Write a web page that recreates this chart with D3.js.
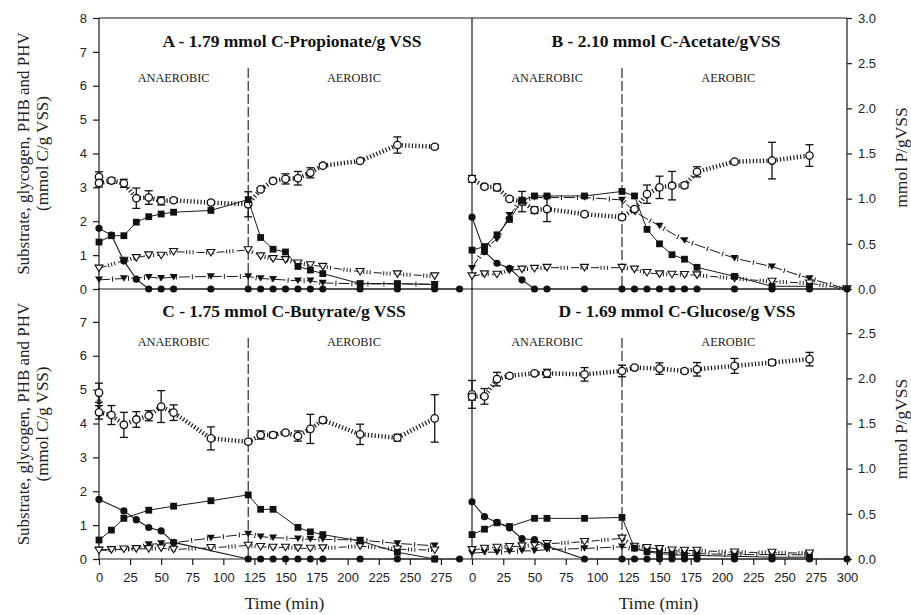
<!DOCTYPE html>
<html><head><meta charset="utf-8">
<script src="https://cdn.jsdelivr.net/npm/d3@7"></script>
<style>body{margin:0;background:#fff}</style>
</head><body>
<svg id="c" width="911" height="615"></svg>
<script>
// ---------- DATA ----------
const panelTitles = ["A - 1.79 mmol C-Propionate/g VSS","B - 2.10 mmol C-Acetate/gVSS","C - 1.75 mmol C-Butyrate/g VSS","D - 1.69 mmol C-Glucose/g VSS"];
const phaseLabels = ["ANAEROBIC","AEROBIC"];
const leftAxisLabel = ["Substrate, glycogen, PHB and PHV","(mmol C/g VSS)"];
const rightAxisLabel = "mmol P/gVSS";
const xAxisLabel = "Time (min)";
const xTicksC = [0,25,50,75,100,125,150,175,200,225,250,275];
const xTicksD = [0,25,50,75,100,125,150,175,200,225,250,275,300];
const yTicksTop = [0,1,2,3,4,5,6,7,8];
const yTicksBottom = [0,1,2,3,4,5,6,7];
const yRightTicksTop = [0,0.5,1,1.5,2,2.5,3];
const yRightTicksBottom = [0,0.5,1,1.5,2,2.5];

// [time, value] ; substrate, PHB, PHV, glycogen in mmol C/g VSS (left); P in mmol P/gVSS (right)
const A_substrate = [[0,1.79],[10,1.59],[20,0.83],[30,0.29],[40,0],[50,0],[60,0],[90,0],[120,0],[130,0],[140,0],[150,0],[160,0],[170,0],[180,0],[210,0],[240,0],[270,0],[290,0]];
const A_P = [[0,0.52],[10,0.59],[20,0.59],[30,0.74],[40,0.80],[50,0.83],[60,0.85],[90,0.87],[120,0.99],[130,0.57],[140,0.44],[150,0.41],[160,0.25],[170,0.21],[180,0.17],[210,0.06],[240,0.06],[270,0.05]];
const A_PHB = [[0,0.27],[20,0.31],[40,0.35],[50,0.32],[60,0.35],[90,0.37],[120,0.37],[130,0.31],[140,0.29],[160,0.24],[170,0.24],[180,0.18],[210,0.15],[240,0.15],[270,0.14]];
const A_PHV = [[0,0.61],[20,0.84],[30,0.92],[40,1.0],[50,0.99],[60,1.1],[90,1.07],[120,1.15],[130,0.97],[140,0.89],[150,0.86],[160,0.76],[170,0.71],[180,0.66],[210,0.51],[240,0.44],[270,0.38]];
const A_glycogen = [[0,3.31,0.15],[0,3.13,0.12],[10,3.2,0.08],[20,3.12,0.12],[30,2.68,0.3],[40,2.7,0.2],[50,2.6,0.12],[60,2.62,0.06],[90,2.55,0.05],[120,2.5,0.37],[130,2.94,0.05],[140,3.19,0.05],[150,3.25,0.15],[160,3.27,0.2],[170,3.43,0.15],[180,3.64,0.05],[210,3.78,0.05],[240,4.25,0.24],[270,4.2,0.06]];

const B_substrate = [[0,2.12],[10,1.1],[20,0.76],[30,0.61],[40,0.27],[50,0],[60,0],[90,0],[120,0],[130,0],[140,0],[150,0],[160,0],[170,0],[180,0],[210,0],[240,0],[270,0],[300,0]];
const B_P = [[0,0.43],[10,0.47],[20,0.60],[30,0.77],[40,0.98],[50,1.03],[60,1.03],[90,1.03],[120,1.08],[130,1.03],[140,0.66],[150,0.50],[160,0.38],[170,0.33],[180,0.24],[210,0.14],[240,0.03],[270,0.03]];
const B_PHB = [[0,0.61],[10,1.2],[20,1.47],[30,2.18],[40,2.63],[50,2.7],[60,2.7],[90,2.7],[120,2.63],[130,2.28],[150,1.86],[170,1.43],[210,0.91],[240,0.66],[270,0.31],[300,0]];
const B_PHV = [[0,0.38],[10,0.44],[20,0.43],[30,0.56],[40,0.58],[50,0.6],[60,0.63],[90,0.63],[120,0.63],[130,0.58],[140,0.48],[150,0.44],[160,0.43],[170,0.42],[180,0.41],[210,0.31],[240,0.22],[270,0.17],[300,0]];
const B_glycogen = [[0,3.25,0.1],[10,3.02,0.05],[20,3.0,0.1],[30,2.66,0.05],[40,2.58,0.3],[50,2.33,0.1],[60,2.36,0.37],[90,2.21,0.05],[120,2.12,0.07],[130,2.36,0.05],[140,2.8,0.27],[150,3.0,0.33],[160,3.05,0.42],[170,3.06,0.07],[180,3.46,0.15],[210,3.76,0.03],[240,3.79,0.54],[270,3.94,0.32]];

const C_substrate = [[0,1.76],[20,1.42],[30,1.16],[40,0.93],[50,0.83],[60,0.49],[120,0],[130,0],[140,0],[150,0],[160,0],[170,0],[180,0],[210,0],[240,0],[270,0],[290,0]];
const C_P = [[0,0.21],[10,0.32],[20,0.45],[40,0.54],[60,0.585],[90,0.645],[120,0.71],[130,0.55],[140,0.55],[160,0.35],[170,0.30],[180,0.27],[210,0.20],[240,0.075],[270,0]];
const C_PHB = [[0,0.27],[10,0.28],[20,0.29],[30,0.31],[40,0.43],[50,0.46],[60,0.48],[90,0.62],[120,0.74],[130,0.66],[140,0.63],[160,0.6],[170,0.58],[180,0.58],[210,0.56],[240,0.46],[270,0.39]];
const C_PHV = [[0,0.25],[10,0.27],[20,0.29],[30,0.3],[40,0.3],[50,0.32],[60,0.28],[90,0.33],[120,0.4],[130,0.36],[140,0.34],[150,0.34],[160,0.32],[170,0.31],[180,0.32],[210,0.38],[240,0.29],[270,0.26]];
const C_glycogen = [[0,4.91,0.28],[0,4.33,0.2],[10,4.25,0.28],[20,3.96,0.37],[30,4.12,0.23],[40,4.23,0.15],[50,4.5,0.47],[60,4.32,0.23],[90,3.56,0.34],[120,3.46,0.05],[130,3.66,0.12],[140,3.66,0.08],[150,3.73,0.04],[160,3.63,0.15],[170,3.84,0.43],[180,4.1,0.08],[210,3.68,0.3],[240,3.58,0.1],[270,4.15,0.7]];

const D_substrate = [[0,1.69],[10,1.25],[20,1.08],[30,0.92],[40,0.6],[50,0.57],[60,0.38],[90,0],[120,0],[130,0],[140,0],[150,0],[160,0],[170,0],[180,0],[210,0],[240,0],[270,0],[300,0]];
const D_P = [[0,0.27],[10,0.33],[20,0.40],[30,0.36],[50,0.45],[60,0.45],[90,0.45],[120,0.46],[130,0.12],[140,0.08],[150,0.06],[160,0.05],[170,0.04],[180,0.04],[210,0.03],[240,0.02],[270,0.02]];
const D_PHB = [[0,0.17],[10,0.2],[20,0.2],[30,0.22],[40,0.24],[50,0.24],[60,0.28],[90,0.31],[120,0.36],[130,0.29],[140,0.24],[150,0.2],[160,0.18],[170,0.17],[180,0.16],[210,0.13],[240,0.13],[270,0.12]];
const D_PHV = [[0,0.27],[10,0.31],[20,0.34],[30,0.36],[40,0.38],[50,0.41],[60,0.45],[90,0.51],[120,0.61],[130,0.37],[140,0.33],[150,0.3],[160,0.26],[170,0.25],[180,0.25],[210,0.2],[240,0.19],[270,0.17]];
const D_glycogen = [[0,4.86,0.41],[0,4.79,0.1],[10,4.8,0.23],[20,5.31,0.2],[30,5.41,0.05],[50,5.48,0.05],[60,5.48,0.12],[90,5.45,0.2],[120,5.55,0.17],[130,5.65,0.05],[150,5.62,0.17],[170,5.55,0.05],[180,5.6,0.2],[210,5.7,0.22],[240,5.8,0.08],[270,5.9,0.2]];

// ---------- LAYOUT ----------
const SERIF = "'Liberation Serif','Times New Roman',serif";
const SANS = "'Liberation Sans',Arial,sans-serif";
const INK = "#1a1a1a";
const colX = [[99,472],[472,847]];
const rowY = [[289,18],[559,288]];

const panels = [
  {col:0,row:0,title:panelTitles[0],titleX:292,sub:A_substrate,p:A_P,phb:A_PHB,phv:A_PHV,gly:A_glycogen},
  {col:1,row:0,title:panelTitles[1],titleX:666,sub:B_substrate,p:B_P,phb:B_PHB,phv:B_PHV,gly:B_glycogen},
  {col:0,row:1,title:panelTitles[2],titleX:284,sub:C_substrate,p:C_P,phb:C_PHB,phv:C_PHV,gly:C_glycogen},
  {col:1,row:1,title:panelTitles[3],titleX:677,sub:D_substrate,p:D_P,phb:D_PHB,phv:D_PHV,gly:D_glycogen}
];

const svg = d3.select("#c");
svg.append("rect").attr("width",911).attr("height",615).attr("fill","#fff");

const triDown = (w,h)=>`M${-w/2},${-h/2}L${w/2},${-h/2}L0,${h/2}Z`;

panels.forEach(pd=>{
  const x = d3.scaleLinear().domain([0,300]).range(colX[pd.col]);
  const y = d3.scaleLinear().domain([0,8]).range(rowY[pd.row]);
  const yR = d3.scaleLinear().domain([0,3]).range(rowY[pd.row]);
  const g = svg.append("g");
  const top = rowY[pd.row][1], bot = rowY[pd.row][0];

  // frame lines
  g.append("line").attr("x1",colX[pd.col][0]).attr("x2",colX[pd.col][1]).attr("y1",bot).attr("y2",bot).attr("stroke",INK).attr("stroke-width",1.2);
  if(pd.row===0) g.append("line").attr("x1",colX[pd.col][0]).attr("x2",colX[pd.col][1]).attr("y1",top).attr("y2",top).attr("stroke",INK).attr("stroke-width",1.2);
  g.append("line").attr("x1",colX[pd.col][0]).attr("x2",colX[pd.col][0]).attr("y1",top).attr("y2",bot).attr("stroke",INK).attr("stroke-width",1.2);

  // left axis
  if(pd.col===0){
    const ax = d3.axisLeft(y).tickValues(pd.row===0?yTicksTop:yTicksBottom).tickSize(6).tickSizeOuter(0).tickPadding(6).tickFormat(d3.format("d"));
    const a = g.append("g").attr("transform",`translate(${colX[0][0]},0)`).call(ax);
    a.select(".domain").remove();
    a.selectAll("line").attr("stroke",INK).attr("stroke-width",1.2);
    a.selectAll("text").attr("font-family",SANS).attr("font-size",13).attr("fill","#222");
  }
  // right axis
  if(pd.col===1){
    g.append("line").attr("x1",colX[1][1]).attr("x2",colX[1][1]).attr("y1",top).attr("y2",bot).attr("stroke",INK).attr("stroke-width",1.2);
    const ax = d3.axisRight(yR).tickValues(pd.row===0?yRightTicksTop:yRightTicksBottom).tickSize(5).tickSizeOuter(0).tickPadding(6).tickFormat(d3.format(".1f"));
    const a = g.append("g").attr("transform",`translate(${colX[1][1]},0)`).call(ax);
    a.select(".domain").remove();
    a.selectAll("line").attr("stroke",INK).attr("stroke-width",1.2);
    a.selectAll("text").attr("font-family",SANS).attr("font-size",13).attr("fill","#222");
  }
  // bottom axis
  if(pd.row===1){
    const ax = d3.axisBottom(x).tickValues(pd.col===0?xTicksC:xTicksD).tickSize(6).tickSizeOuter(0).tickPadding(8);
    const a = g.append("g").attr("transform",`translate(0,${bot})`).call(ax);
    a.select(".domain").remove();
    a.selectAll("line").attr("stroke",INK).attr("stroke-width",1.2);
    a.selectAll("text").attr("font-family",SANS).attr("font-size",13).attr("fill","#222");
    g.append("text").attr("x",(colX[pd.col][0]+colX[pd.col][1])/2-1).attr("y",609).attr("text-anchor","middle")
      .attr("font-family",SERIF).attr("font-weight","normal").attr("font-size",17.5).attr("fill","#222").text(xAxisLabel);
  }

  // phase divider
  g.append("line").attr("x1",x(120)).attr("x2",x(120)).attr("y1",top+50).attr("y2",bot)
    .attr("stroke",INK).attr("stroke-width",1.1).attr("stroke-dasharray","10,3");

  // titles and phase labels
  g.append("text").attr("x",pd.titleX).attr("y",top+29).attr("text-anchor","middle")
    .attr("font-family",SERIF).attr("font-weight","bold").attr("font-size",17.5).attr("fill","#111").text(pd.title);
  const phY = top + (pd.row===0?64:58);
  g.append("text").attr("x",x(60)).attr("y",phY).attr("text-anchor","middle").attr("font-family",SERIF).attr("font-size",12.3).attr("fill","#222").text(phaseLabels[0]);
  g.append("text").attr("x",x(205)).attr("y",phY).attr("text-anchor","middle").attr("font-family",SERIF).attr("font-size",12.3).attr("fill","#222").text(phaseLabels[1]);

  const lineL = d3.line().x(d=>x(d[0])).y(d=>y(d[1]));
  const lineR = d3.line().x(d=>x(d[0])).y(d=>yR(d[1]));

  // PHV (open triangle) dash + tick-dot line
  g.append("path").attr("d",lineL(pd.phv)).attr("fill","none").attr("stroke",INK).attr("stroke-width",1).attr("stroke-dasharray","8,12");
  g.append("path").attr("d",lineL(pd.phv)).attr("fill","none").attr("stroke",INK).attr("stroke-width",4).attr("stroke-dasharray","1,2.2,1,2.2,1,12.6").attr("stroke-dashoffset",-9.5);
  // PHB (filled triangle) dash with perpendicular ticks
  g.append("path").attr("d",lineL(pd.phb)).attr("fill","none").attr("stroke",INK).attr("stroke-width",1).attr("stroke-dasharray","11,5");
  g.append("path").attr("d",lineL(pd.phb)).attr("fill","none").attr("stroke",INK).attr("stroke-width",5).attr("stroke-dasharray","1,15").attr("stroke-dashoffset",-13);
  g.selectAll(".phb").data(pd.phb).join("path").attr("d",triDown(8,6.5))
    .attr("transform",d=>`translate(${x(d[0])},${y(d[1])})`).attr("fill","#111");
  g.selectAll(".phv").data(pd.phv).join("path").attr("d",triDown(8,6.5))
    .attr("transform",d=>`translate(${x(d[0])},${y(d[1])})`).attr("fill","#fff").attr("stroke","#111").attr("stroke-width",1.1);

  // glycogen: thick dotted comb line + error bars + open circles
  g.append("path").attr("d",lineL(pd.gly)).attr("fill","none").attr("stroke",INK).attr("stroke-width",4.5).attr("stroke-dasharray","1.2,2.2");
  const eb = g.selectAll(".eb").data(pd.gly).join("g");
  eb.append("line").attr("x1",d=>x(d[0])).attr("x2",d=>x(d[0])).attr("y1",d=>y(d[1]-d[2])).attr("y2",d=>y(d[1]+d[2])).attr("stroke","#111").attr("stroke-width",1.3);
  eb.append("line").attr("x1",d=>x(d[0])-4).attr("x2",d=>x(d[0])+4).attr("y1",d=>y(d[1]-d[2])).attr("y2",d=>y(d[1]-d[2])).attr("stroke","#111").attr("stroke-width",1.3);
  eb.append("line").attr("x1",d=>x(d[0])-4).attr("x2",d=>x(d[0])+4).attr("y1",d=>y(d[1]+d[2])).attr("y2",d=>y(d[1]+d[2])).attr("stroke","#111").attr("stroke-width",1.3);
  g.selectAll(".gly").data(pd.gly).join("circle").attr("cx",d=>x(d[0])).attr("cy",d=>y(d[1])).attr("r",3.7)
    .attr("fill","#fff").attr("stroke","#111").attr("stroke-width",1.3);

  // phosphorus (filled square) solid line, right axis
  g.append("path").attr("d",lineR(pd.p)).attr("fill","none").attr("stroke",INK).attr("stroke-width",1);
  g.selectAll(".p").data(pd.p).join("rect").attr("x",d=>x(d[0])-3.4).attr("y",d=>yR(d[1])-3.4).attr("width",6.8).attr("height",6.8).attr("fill","#111");

  // substrate (filled circle) solid line
  g.append("path").attr("d",lineL(pd.sub)).attr("fill","none").attr("stroke",INK).attr("stroke-width",1.1);
  g.selectAll(".s").data(pd.sub).join("circle").attr("cx",d=>x(d[0])).attr("cy",d=>y(d[1])).attr("r",3.6).attr("fill","#111");
});

// axis titles
[153.5, 424].forEach(cy=>{
  svg.append("text").attr("transform",`translate(23,${cy}) rotate(-90)`).attr("text-anchor","middle").attr("dominant-baseline","central")
    .attr("font-family",SERIF).attr("font-size",17).attr("fill","#222").text(leftAxisLabel[0]);
  svg.append("text").attr("transform",`translate(42,${cy}) rotate(-90)`).attr("text-anchor","middle").attr("dominant-baseline","central")
    .attr("font-family",SERIF).attr("font-size",17).attr("fill","#222").text(leftAxisLabel[1]);
});
[157.5, 429].forEach(cy=>{
  svg.append("text").attr("transform",`translate(901,${cy}) rotate(-90)`).attr("text-anchor","middle").attr("dominant-baseline","central")
    .attr("font-family",SERIF).attr("font-size",17.5).attr("fill","#222").text(rightAxisLabel);
});
</script>
</body></html>
